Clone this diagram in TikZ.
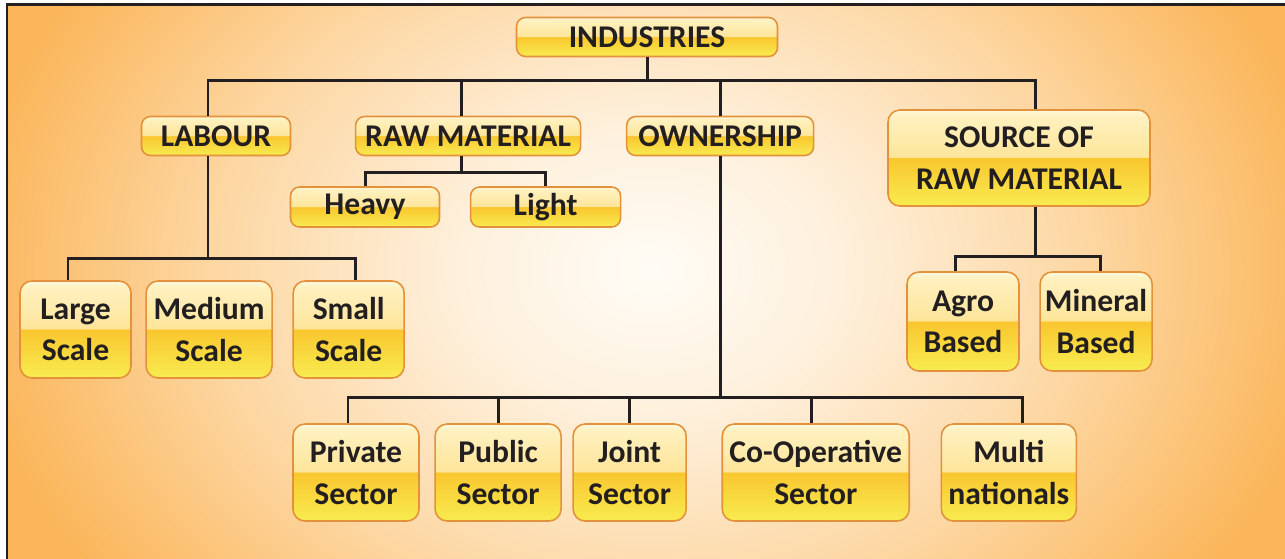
\documentclass[tikz,border=0pt]{standalone}
\usepackage{fontspec}
\setmainfont{Carlito}
\usetikzlibrary{positioning}

\definecolor{ink}{HTML}{231F20}
\definecolor{boxedge}{HTML}{E3913A}
\definecolor{glhi}{HTML}{FFF8E0}
\definecolor{gltop}{HTML}{FFF1C0}
\definecolor{glup}{HTML}{FDE59A}
\definecolor{gllow}{HTML}{F9C62F}
\definecolor{glbot}{HTML}{F8EC50}
\definecolor{bgc0}{HTML}{FFFCF6}
\definecolor{bgc1}{HTML}{FEF0DC}
\definecolor{bgc2}{HTML}{FDD7A3}
\definecolor{bgc3}{HTML}{FBB65A}

\pgfdeclareverticalshading{gloss}{100bp}{color(0bp)=(glbot); color(25bp)=(glbot);
  color(50bp)=(gllow); color(50.5bp)=(glup); color(72bp)=(gltop);
  color(75bp)=(glhi); color(100bp)=(glhi)}
\pgfdeclareradialshading{glow}{\pgfpoint{0bp}{0bp}}{color(0bp)=(bgc0);
  color(7bp)=(bgc1); color(16bp)=(bgc2); color(25bp)=(bgc3); color(50bp)=(bgc3)}

\begin{document}
\begin{tikzpicture}[
    font=\fontsize{18}{23.5}\selectfont\bfseries,
    box/.style={
        draw=boxedge, line width=0.9pt,
        rounded corners=0.18cm,
        shade, shading=gloss,
        text=ink, align=center,
        inner sep=0pt,
        minimum height=0.78cm
    },
    tallbox/.style={box, rounded corners=0.24cm, minimum height=1.94cm},
    link/.style={draw=ink, line width=1.7pt},
    frame/.style={draw=ink, line width=1.7pt}
]
\useasboundingbox (0,0) rectangle (25.7,-11.16);

% ===== BACKGROUND =====
\begin{scope}
  \clip (0.14,-0.08) rectangle (25.9,-11.4);
  \fill[bgc3] (0.14,-0.08) rectangle (25.9,-11.4);
  \shade[shading=glow] (13.0,-5.4) ellipse [x radius=13.6cm, y radius=10.4cm];
\end{scope}
\draw[frame] (0.14,-11.4) -- (0.14,-0.08) -- (25.9,-0.08);

% ===== TOP =====
\node[box, minimum width=5.22cm] (ind) at (12.94,-0.74) {INDUSTRIES};

% ===== SECOND LEVEL =====
\node[box, minimum width=2.98cm] (labour) at (4.32,-2.72) {LABOUR};
\node[box, minimum width=4.50cm, right=1.27cm of labour] (raw) {RAW MATERIAL};
\node[box, minimum width=3.74cm, right=0.89cm of raw] (own) {OWNERSHIP};
\node[tallbox, minimum width=5.24cm, minimum height=1.92cm] (src) at (20.38,-3.16)
{SOURCE OF\\RAW MATERIAL};

% ===== RAW MATERIAL =====
\node[box, minimum width=2.98cm, minimum height=0.80cm] (heavy) at (7.30,-4.14) {Heavy};
\node[box, minimum width=3.00cm, minimum height=0.80cm, right=0.59cm of heavy] (light) {Light};

% ===== LABOUR =====
\node[tallbox, minimum width=2.22cm] (large) at (1.51,-6.59) {Large\\Scale};
\node[tallbox, minimum width=2.52cm, right=0.27cm of large] (medium) {Medium\\Scale};
\node[tallbox, minimum width=2.22cm, right=0.39cm of medium] (small) {Small\\Scale};

% ===== SOURCE OF RAW MATERIAL =====
\node[tallbox, minimum width=2.24cm, minimum height=1.98cm] (agro) at (19.26,-6.43) {Agro\\Based};
\node[tallbox, minimum width=2.24cm, minimum height=1.98cm, right=0.39cm of agro] (mineral)
{Mineral\\Based};

% ===== OWNERSHIP =====
\node[tallbox, minimum width=2.52cm] (private) at (7.12,-9.45) {Private\\Sector};
\node[tallbox, minimum width=2.52cm, right=0.29cm of private] (public) {Public\\Sector};
\node[tallbox, minimum width=2.26cm, right=0.21cm of public] (joint) {Joint\\Sector};
\node[tallbox, minimum width=3.74cm, right=0.69cm of joint] (coop) {Co-Operative\\Sector};
\node[tallbox, minimum width=2.70cm, right=0.61cm of coop] (multi) {Multi\\nationals};

% ===== BUS LINES =====
\coordinate (bus0) at (0,-1.60);
\coordinate (busraw) at (0,-3.44);
\coordinate (buslab) at (0,-5.16);
\coordinate (bussrc) at (0,-5.12);
\coordinate (busown) at (0,-7.94);

% industries -> second level
\draw[link] (ind.south) -- (ind.south |- bus0);
\draw[link] ([xshift=-0.16cm]labour.north) |- ([xshift=0.32cm]src.north |- bus0)
  -- ([xshift=0.32cm]src.north);
\draw[link] ([xshift=-0.13cm]raw.north) -- ([xshift=-0.13cm]raw.north |- bus0);
\draw[link] (own.north) -- (own.north |- bus0);

% raw material -> heavy, light
\draw[link] ([xshift=-0.13cm]raw.south) -- ([xshift=-0.13cm]raw.south |- busraw);
\draw[link] (heavy.north) |- (light.north |- busraw) -- (light.north);

% labour -> scales
\draw[link] ([xshift=-0.16cm]labour.south) -- ([xshift=-0.16cm]labour.south |- buslab);
\draw[link] ([xshift=-0.15cm]large.north) |- ([xshift=0.13cm]small.north |- buslab)
  -- ([xshift=0.13cm]small.north);

% source -> agro, mineral
\draw[link] ([xshift=0.32cm]src.south) -- ([xshift=0.32cm]src.south |- bussrc);
\draw[link] ([xshift=-0.16cm]agro.north) |- ([xshift=0.08cm]mineral.north |- bussrc)
  -- ([xshift=0.08cm]mineral.north);

% ownership -> sectors
\draw[link] (own.south) -- (own.south |- busown);
\draw[link] ([xshift=-0.16cm]private.north) |- ([xshift=0.28cm]multi.north |- busown)
  -- ([xshift=0.28cm]multi.north);
\draw[link] (public.north) -- (public.north |- busown);
\draw[link] (joint.north) -- (joint.north |- busown);
\draw[link] ([xshift=-0.09cm]coop.north) -- ([xshift=-0.09cm]coop.north |- busown);

\end{tikzpicture}
\end{document}
